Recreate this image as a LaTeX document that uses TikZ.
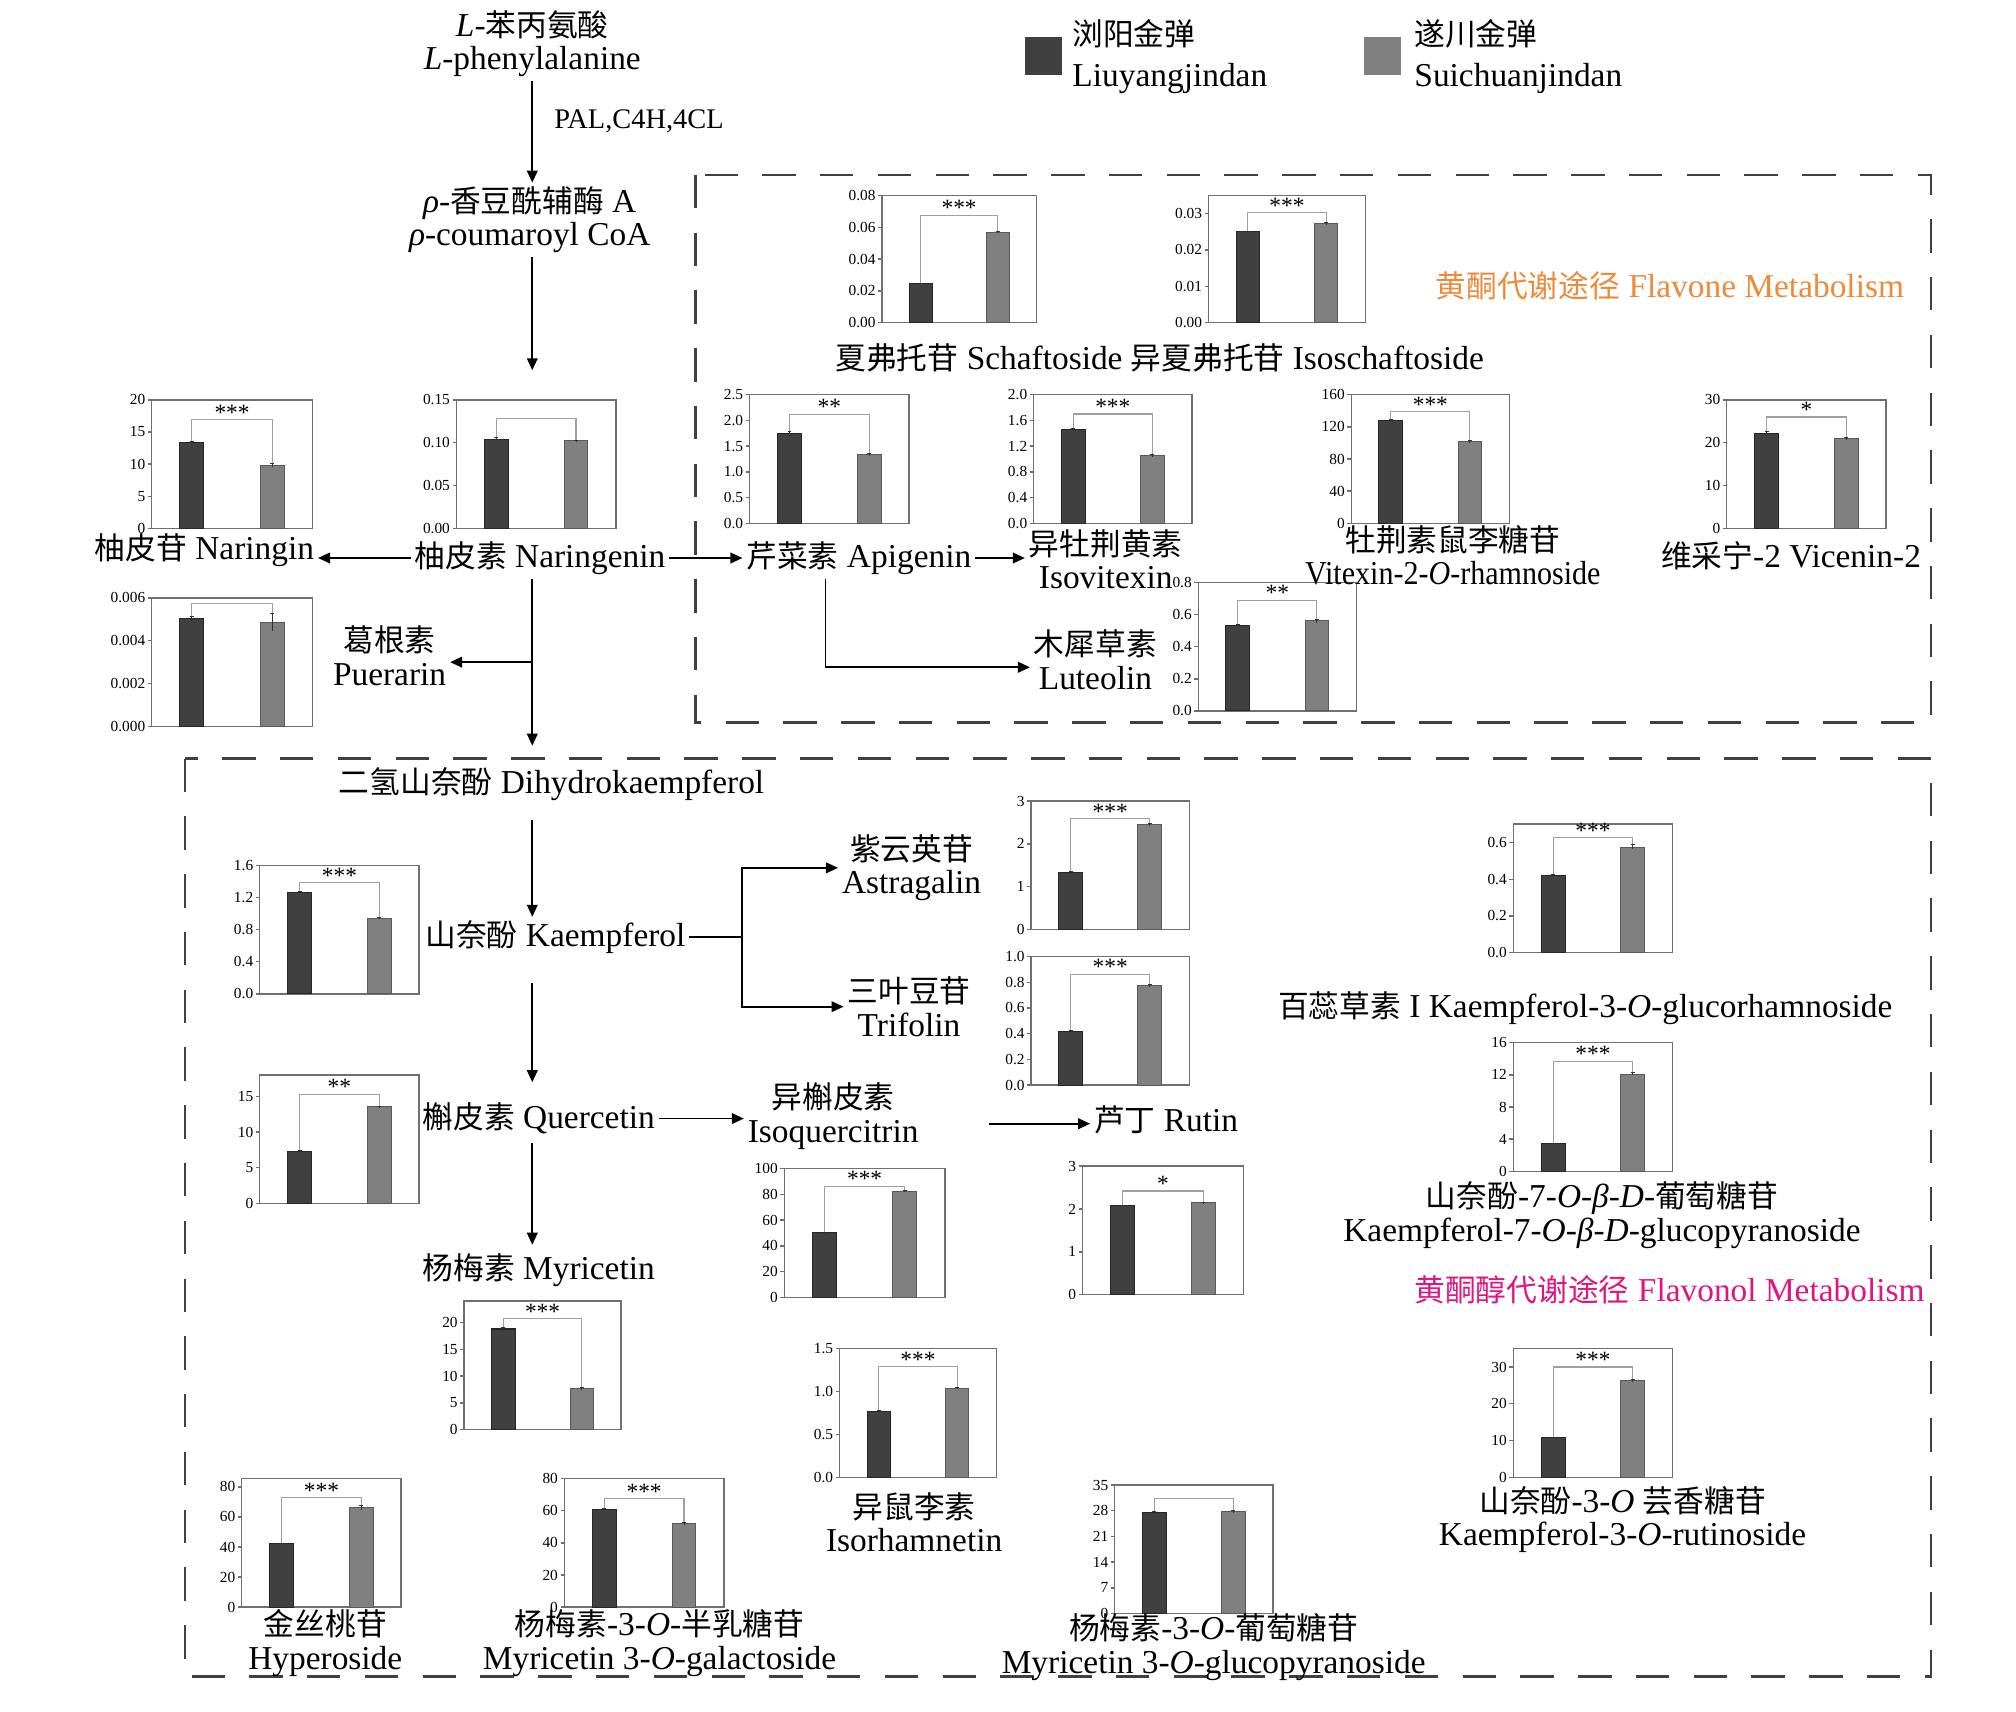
\documentclass[tikz,border=0pt]{standalone}
\usepackage{fontspec}
\usepackage{graphicx}
\setmainfont{Liberation Serif}
\newfontfamily\cjk{Noto Sans CJK SC}[Scale=0.92]
\usetikzlibrary{arrows.meta}
\newcommand\zh[1]{{\cjk #1}}
\definecolor{bdark}{HTML}{404040}
\definecolor{bgrey}{HTML}{808080}
\definecolor{frc}{HTML}{707070}
\definecolor{orangec}{HTML}{EE8A3A}
\definecolor{magc}{HTML}{E0157F}
\tikzset{
 lbl/.style={font=\fontsize{10}{10}\selectfont, align=center, inner sep=1pt},
 arr/.style={-{Triangle[length=3.6pt,width=3.2pt]}, line width=0.5pt},
 plain/.style={line width=0.5pt},
 chframe/.style={draw=frc, line width=0.4pt},
 ticklbl/.style={font=\fontsize{4.6}{5}\selectfont, inner sep=0.6pt},
 starlbl/.style={font=\fontsize{7}{7}\selectfont, inner sep=0pt},
 dashbox/.style={draw=black!75, line width=0.7pt, dash pattern=on 10pt off 7.3pt},
 brk/.style={draw=gray!75, line width=0.35pt},
}
% chart frame: left top right bottom ymax ticks
\newcommand\chart[6]{%
 \def\chL{#1}\def\chT{#2}\def\chR{#3}\def\chB{#4}\def\chM{#5}%
 \draw[chframe] (#1,#2) rectangle (#3,#4);
 \foreach \tickv/\tickl in {#6}{%
   \draw[chframe] ({#1},{#4-(#4-#2)*(\tickv/#5)}) -- ++(-3,0) node[left,ticklbl]{\tickl};}%
}
% bars: v1 v2 e1 e2 bracket stars
\newcommand\bars[6]{%
 \pgfmathsetmacro\chW{\chR-\chL}%
 \pgfmathsetmacro\chXa{\chL+0.25*\chW}%
 \pgfmathsetmacro\chXb{\chL+0.75*\chW}%
 \pgfmathsetmacro\chHw{0.075*\chW}%
 \pgfmathsetmacro\chH{\chB-\chT}%
 \pgfmathsetmacro\chYa{\chB-\chH*((#1)/\chM)}%
 \pgfmathsetmacro\chYb{\chB-\chH*((#2)/\chM)}%
 \pgfmathsetmacro\chYat{\chB-\chH*((#1+#3)/\chM)}%
 \pgfmathsetmacro\chYab{\chB-\chH*((#1-#3)/\chM)}%
 \pgfmathsetmacro\chYbt{\chB-\chH*((#2+#4)/\chM)}%
 \pgfmathsetmacro\chYbb{\chB-\chH*((#2-#4)/\chM)}%
 \pgfmathsetmacro\chYk{\chB-\chH*((#5)/\chM)}%
 \filldraw[fill=bdark,draw=black!85,line width=0.3pt] ({\chXa-\chHw},\chB) rectangle ({\chXa+\chHw},\chYa);
 \filldraw[fill=bgrey,draw=black!65,line width=0.3pt] ({\chXb-\chHw},\chB) rectangle ({\chXb+\chHw},\chYb);
 \draw[brk] (\chXa,\chYat) -- (\chXa,\chYk) -- (\chXb,\chYk) -- (\chXb,\chYbt);
 \draw[line width=0.3pt,black!80] (\chXa,\chYab) -- (\chXa,\chYat) ({\chXa-1.5},\chYat) -- ({\chXa+1.5},\chYat)
   (\chXb,\chYbb) -- (\chXb,\chYbt) ({\chXb-1.5},\chYbt) -- ({\chXb+1.5},\chYbt);
 \node[starlbl, anchor=south] at ({(\chXa+\chXb)/2},{\chYk+1}) {#6};
}
\begin{document}
\begin{tikzpicture}[x=0.385pt,y=-0.385pt]
\useasboundingbox (0,0) rectangle (1568,1331);

% dashed boxes
\draw[dashbox] (541,136) rectangle (1502,562);
\draw[dashbox] (144,590) rectangle (1502,1304);

% legend
\fill[bdark] (797,29) rectangle (826,58);
\fill[bgrey] (1061,29) rectangle (1090,58);
\node[lbl, anchor=west, align=left, font=\fontsize{10}{12.3}\selectfont] (leg1) at (831,44) {\zh{浏阳金弹}\\Liuyangjindan};
\node[lbl, anchor=west, align=left, font=\fontsize{10}{12.3}\selectfont] (leg2) at (1097,44) {\zh{遂川金弹}\\Suichuanjindan};

% charts
\chart{686}{152}{806}{251}{8}{0/0.00,2/0.02,4/0.04,6/0.06,8/0.08}
\bars{2.45}{5.7}{0.03}{0.05}{6.75}{***}
\chart{940}{152}{1062}{251}{35}{0/0.00,10/0.01,20/0.02,30/0.03}
\bars{25}{27.3}{0.2}{0.3}{30.3}{***}
\chart{118}{311}{243}{411}{20}{0/0,5/5,10/10,15/15,20/20}
\bars{13.4}{9.8}{0.15}{0.3}{16.9}{***}
\chart{355}{311}{479}{411}{15}{0/0.00,5/0.05,10/0.10,15/0.15}
\bars{10.4}{10.2}{0.15}{0.1}{12.8}{}
\chart{118}{465}{243}{565}{6}{0/0.000,2/0.002,4/0.004,6/0.006}
\bars{5.02}{4.85}{0.12}{0.4}{5.72}{}
\chart{583}{307}{707}{407}{2.5}{0/0.0,0.5/0.5,1/1.0,1.5/1.5,2/2.0,2.5/2.5}
\bars{1.74}{1.33}{0.04}{0.02}{2.12}{**}
\chart{804}{307}{927}{407}{2}{0/0.0,0.4/0.4,0.8/0.8,1.2/1.2,1.6/1.6,2/2.0}
\bars{1.46}{1.05}{0.02}{0.02}{1.7}{***}
\chart{1051}{307}{1174}{407}{160}{0/0,40/40,80/80,120/120,160/160}
\bars{128}{102}{1.2}{1.5}{139}{***}
\chart{1343}{311}{1467}{411}{30}{0/0,10/10,20/20,30/30}
\bars{22.1}{20.9}{0.5}{0.3}{26}{*}
\chart{932}{453}{1055}{553}{0.8}{0/0.0,0.2/0.2,0.4/0.4,0.6/0.6,0.8/0.8}
\bars{0.53}{0.56}{0.01}{0.012}{0.69}{**}
\chart{202}{673}{326}{773}{1.6}{0/0.0,0.4/0.4,0.8/0.8,1.2/1.2,1.6/1.6}
\bars{1.26}{0.94}{0.01}{0.01}{1.385}{***}
\chart{802}{623}{925}{723}{3}{0/0,1/1,2/2,3/3}
\bars{1.33}{2.45}{0.02}{0.03}{2.59}{***}
\chart{802}{744}{925}{844}{1}{0/0.0,0.2/0.2,0.4/0.4,0.6/0.6,0.8/0.8,1/1.0}
\bars{0.42}{0.775}{0.005}{0.01}{0.862}{***}
\chart{1177}{641}{1301}{741}{0.7}{0/0.0,0.2/0.2,0.4/0.4,0.6/0.6}
\bars{0.42}{0.575}{0.005}{0.012}{0.625}{***}
\chart{202}{836}{326}{936}{18}{0/0,5/5,10/10,15/15}
\bars{7.3}{13.5}{0.1}{0.1}{15.3}{**}
\chart{1177}{811}{1301}{911}{16}{0/0,4/4,8/8,12/12,16/16}
\bars{3.4}{12.1}{0.05}{0.15}{13.7}{***}
\chart{610}{909}{735}{1009}{100}{0/0,20/20,40/40,60/60,80/80,100/100}
\bars{50}{82.5}{0.6}{0.6}{86.3}{***}
\chart{842}{907}{967}{1007}{3}{0/0,1/1,2/2,3/3}
\bars{2.07}{2.14}{0.02}{0.02}{2.42}{*}
\chart{361}{1012}{483}{1112}{24}{0/0,5/5,10/10,15/15,20/20}
\bars{18.8}{7.7}{0.3}{0.2}{20.75}{***}
\chart{653}{1049}{775}{1149}{1.5}{0/0.0,0.5/0.5,1/1.0,1.5/1.5}
\bars{0.77}{1.04}{0.006}{0.006}{1.29}{***}
\chart{1177}{1049}{1301}{1149}{35}{0/0,10/10,20/20,30/30}
\bars{10.8}{26.3}{0.15}{0.3}{30}{***}
\chart{188}{1150}{312}{1250}{85.5}{0/0,20/20,40/40,60/60,80/80}
\bars{42}{66}{0.6}{1.5}{72.9}{***}
\chart{439}{1150}{563}{1250}{80}{0/0,20/20,40/40,60/60,80/80}
\bars{60.5}{52}{0.6}{0.8}{67.5}{***}
\chart{867}{1155}{990}{1255}{35}{0/0,7/7,14/14,21/21,28/28,35/35}
\bars{27.5}{27.8}{0.3}{0.3}{31.4}{}

% labels
\node[lbl] (phe) at (414,34) {\textit{L}-\zh{苯丙氨酸}\\\textit{L}-phenylalanine};
\node[lbl, anchor=west, font=\fontsize{8.5}{9}\selectfont] (pal) at (428,94) {PAL,C4H,4CL};
\node[lbl] (coum) at (412,171) {\textit{ρ}-\zh{香豆酰辅酶} A\\\textit{ρ}-coumaroyl CoA};
\node[lbl] (schaf) at (902,278) {\zh{夏弗托苷} Schaftoside \zh{异夏弗托苷} Isoschaftoside};
\node[lbl, anchor=east, text=orangec] (flavone) at (1484,222) {\zh{黄酮代谢途径} Flavone Metabolism};
\node[lbl] (naringin) at (159,428) {\zh{柚皮苷} Naringin};
\node[lbl] (naringenin) at (420,434) {\zh{柚皮素} Naringenin};
\node[lbl] (apigenin) at (668,434) {\zh{芹菜素} Apigenin};
\node[lbl] (isovitexin) at (860,435) {\zh{异牡荆黄素}\\Isovitexin};
\node[lbl] (vitexin) at (1130,432) {\zh{牡荆素鼠李糖苷}\\\scalebox{0.9}[1]{Vitexin-2-\textit{O}-rhamnoside}};
\node[lbl] (vicenin) at (1393,432) {\zh{维采宁}-2 Vicenin-2};
\node[lbl] (luteolin) at (852,513) {\zh{木犀草素}\\Luteolin};
\node[lbl] (puerarin) at (303,510) {\zh{葛根素}\\Puerarin};
\node[lbl] (dihydro) at (429,610) {\zh{二氢山奈酚} Dihydrokaempferol};
\node[lbl] (kaempferol) at (432,729) {\zh{山奈酚} Kaempferol};
\node[lbl] (astragalin) at (709,675) {\zh{紫云英苷}\\Astragalin};
\node[lbl] (trifolin) at (707,783) {\zh{三叶豆苷}\\Trifolin};
\node[lbl] (quercetin) at (419,870) {\zh{槲皮素} Quercetin};
\node[lbl] (isoquercitrin) at (648,868) {\zh{异槲皮素}\\Isoquercitrin};
\node[lbl] (rutin) at (907,871) {\zh{芦丁} Rutin};
\node[lbl] (myricetin) at (419,988) {\zh{杨梅素} Myricetin};
\node[lbl] (glucorham) at (1233,784) {\zh{百蕊草素} I Kaempferol-3-\textit{O}-glucorhamnoside};
\node[lbl] (k7) at (1246,945) {\zh{山奈酚}-7-\textit{O}-\textit{β}-\textit{D}-\zh{葡萄糖苷}\\Kaempferol-7-\textit{O}-\textit{β}-\textit{D}-glucopyranoside};
\node[lbl, anchor=east, text=magc] (flavonol) at (1500,1003) {\zh{黄酮醇代谢途径} Flavonol Metabolism};
\node[lbl] (isorham) at (711,1184) {\zh{异鼠李素}\\Isorhamnetin};
\node[lbl] (k3rut) at (1262,1182) {\zh{山奈酚}-3-\textit{O} \zh{芸香糖苷}\\Kaempferol-3-\textit{O}-rutinoside};
\node[lbl] (hyperoside) at (253,1278) {\zh{金丝桃苷}\\Hyperoside};
\node[lbl] (myrgal) at (513,1278) {\zh{杨梅素}-3-\textit{O}-\zh{半乳糖苷}\\Myricetin 3-\textit{O}-galactoside};
\node[lbl] (myrglu) at (944,1281) {\zh{杨梅素}-3-\textit{O}-\zh{葡萄糖苷}\\Myricetin 3-\textit{O}-glucopyranoside};

% connectors
\coordinate (xm) at (414,0);
\coordinate (nend) at (414,288);
\coordinate (fend) at (414,580);
\coordinate (pbr) at (414,515);
\coordinate (apd) at (642,519);
\coordinate (kb) at (577,729);
\coordinate (rq) at (769,874);
\draw[arr] (phe.south -| xm) -- (coum.north -| xm);
\draw[arr] (coum.south -| xm) -- (nend);
\draw[arr] (naringenin.west) -- (naringenin.west -| naringin.east);
\draw[arr] (naringenin.east) -- (naringenin.east -| apigenin.west);
\draw[arr] (apigenin.east) -- (apigenin.east -| isovitexin.west);
\draw[arr] (apd |- apigenin.south) -- (apd) -- (apd -| luteolin.west);
\draw[arr] (naringenin.south -| xm) -- (fend);
\draw[arr] (pbr) -- (pbr -| puerarin.east);
\draw[arr, shorten <=4.5pt] (dihydro.south -| xm) -- (kaempferol.north -| xm);
\draw[plain] (kaempferol.east) -- (kb);
\draw[arr] (kb) |- (astragalin.west);
\draw[arr] (kb) |- (trifolin.west);
\draw[arr, shorten <=7.5pt, shorten >=5pt] (kaempferol.south -| xm) -- (quercetin.north -| xm);
\draw[arr] (quercetin.east) -- (quercetin.east -| isoquercitrin.west);
\draw[arr] (rq) -- (rq -| rutin.west);
\draw[arr, shorten <=1.5pt, shorten >=1.5pt] (quercetin.south -| xm) -- (myricetin.north -| xm);
\end{tikzpicture}
\end{document}
